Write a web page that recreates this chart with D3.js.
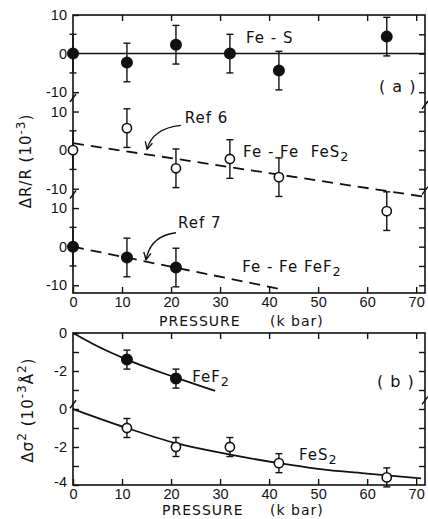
<!DOCTYPE html>
<html>
<head>
<meta charset="utf-8">
<script src="https://cdn.jsdelivr.net/npm/d3@7"></script>
<style>
body { margin: 0; background: #fff; }
svg { font-family: "DejaVu Sans", sans-serif; }
</style>
</head>
<body>
<div id="chart-area"></div>
<script>
// panel (a): delta R / R (10^-3) vs pressure (kbar)
const pFeS = [0, 11, 21, 32, 42, 64];
const dRFeS = [0, -2.3, 2.3, 0, -4.4, 4.4];
const eFeS = [5, 5, 5, 5, 5, 5];

const pFeS2 = [0, 11, 21, 32, 42, 64];
const dRFeS2 = [0, 5.7, -4.7, -2.3, -7, -15.8];
const eFeS2 = [5, 5, 5, 5, 5, 5];

const pFeF2 = [0, 11, 21];
const dRFeF2 = [0, -2.8, -5.4];
const eFeF2 = [5, 5, 5];

const pRef6 = [0, 71.8];
const dRRef6 = [1.8, -12.1];
const pRef7 = [0, 42];
const dRRef7 = [0, -10.9];

// panel (b): delta sigma^2 (10^-3 A^2)
const pSigF2 = [11, 21];
const sigF2 = [-1.4, -2.4];
const eSigF2 = [0.5, 0.5];
const pSigS2 = [11, 21, 32, 42, 64];
const sigS2 = [-1.0, -2.0, -2.0, -2.85, -3.6];
const eSigS2 = [0.5, 0.5, 0.5, 0.5, 0.5];

const pFitF2 = [0, 5, 11, 21, 29];
const fitF2 = [0, -0.7, -1.4, -2.35, -3.05];
const pFitS2 = [0, 11, 21, 30, 42, 50, 60, 71];
const fitS2 = [0, -1.0, -1.8, -2.3, -2.85, -3.15, -3.4, -3.65];

const xTicks = [0, 10, 20, 30, 40, 50, 60, 70];

let svg = d3.select("#chart-area").append("svg")
    .attr("width", 428)
    .attr("height", 519);

svg.append("defs").append("marker")
    .attr("id", "arr")
    .attr("viewBox", "0 0 10 10")
    .attr("refX", 9).attr("refY", 5)
    .attr("markerWidth", 7).attr("markerHeight", 7)
    .attr("orient", "auto")
    .append("path")
    .attr("d", "M1,1 L9,5 L1,9")
    .attr("fill", "none")
    .attr("stroke", "#111")
    .attr("stroke-width", 1.5);

const x = d3.scaleLinear().domain([0, 71.8]).range([73, 425]);
const yA = d3.scaleLinear().domain([-62, 10]).range([293, 15]);
const yB = d3.scaleLinear().domain([-8, 0]).range([485, 333]);

const offA = [0, -25, -50];   // three stacked sub-panels in (a)
const offB = [0, -4];         // two stacked sub-panels in (b)

function subOffA(v) { return v >= -12.5 ? 0 : (v >= -37.5 ? -25 : -50); }
function subOffB(v) { return v >= -3.5 ? 0 : -4; }

function frame(y, y0, y1) {
    svg.append("rect")
        .attr("x", x(0)).attr("y", y(y1))
        .attr("width", x(71.8) - x(0))
        .attr("height", y(y0) - y(y1))
        .attr("fill", "none")
        .attr("stroke", "#111")
        .attr("stroke-width", 1.6);
}

function styleAxis(g) {
    g.select(".domain").remove();
    g.selectAll(".tick line").attr("stroke", "#111").attr("stroke-width", 1.4);
    g.selectAll(".tick text").attr("fill", "#111").attr("font-size", 14.5)
        .attr("font-family", "Liberation Sans, sans-serif");
}

// x axes (top + bottom) for both panels
function xAxes(y, y0, y1, labelled) {
    let b = svg.append("g").attr("transform", "translate(0," + y(y0) + ")")
        .call(d3.axisBottom(x).tickValues(xTicks).tickSizeInner(-6).tickSizeOuter(0).tickPadding(4));
    styleAxis(b);
    if (!labelled) b.selectAll("text").remove();
    let t = svg.append("g").attr("transform", "translate(0," + y(y1) + ")")
        .call(d3.axisTop(x).tickValues(xTicks.slice(1)).tickSizeInner(-6).tickSizeOuter(0));
    styleAxis(t);
    t.selectAll("text").remove();
}

frame(yA, -62, 10);
frame(yB, -8, 0);
xAxes(yA, -62, 10, true);
xAxes(yB, -8, 0, true);

// left axis (a)
let la = svg.append("g").attr("transform", "translate(" + x(0) + ",0)")
    .call(d3.axisLeft(yA)
        .tickValues([10, 0, -10, -15, -25, -35, -40, -50, -60])
        .tickSizeInner(-6).tickSizeOuter(0).tickPadding(6)
        .tickFormat(function (d) { return String(d - subOffA(d)); }));
styleAxis(la);
la.selectAll(".tick line").attr("x2", function (d) { return (d - subOffA(d)) === 0 ? 0 : 6; });

// right axis (a)
let ra = svg.append("g").attr("transform", "translate(" + x(71.8) + ",0)")
    .call(d3.axisRight(yA).tickValues(d3.range(-60, 10, 5)).tickSizeInner(-6).tickSizeOuter(0));
styleAxis(ra);
ra.selectAll("text").remove();

// left axis (b)
let lb = svg.append("g").attr("transform", "translate(" + x(0) + ",0)")
    .call(d3.axisLeft(yB)
        .tickValues(d3.range(-8, 0.5, 1))
        .tickSizeInner(-6).tickSizeOuter(0).tickPadding(6)
        .tickFormat(function (d) {
            let v = d - subOffB(d);
            return v % 2 === 0 ? String(v) : "";
        }));
styleAxis(lb);
lb.selectAll(".tick text").attr("dy", function (d) { return d === -8 ? "0.1em" : "0.32em"; });

// right axis (b)
let rb = svg.append("g").attr("transform", "translate(" + x(71.8) + ",0)")
    .call(d3.axisRight(yB).tickValues(d3.range(-7, 0, 1)).tickSizeInner(-6).tickSizeOuter(0));
styleAxis(rb);
rb.selectAll("text").remove();

// axis break marks
function breakMark(px, py) {
    svg.append("path")
        .attr("d", "M" + (px - 3) + "," + (py + 4) + " L" + (px + 3) + "," + (py - 4))
        .attr("stroke", "#111").attr("stroke-width", 1.4);
}
breakMark(x(0), yA(-11.5));
breakMark(x(0), yA(-36.5));
breakMark(x(71.8), yA(-13.3));
breakMark(x(71.8), yA(-35.5));
breakMark(x(0), yB(-3.75));
breakMark(x(71.8), yB(-3.55));

// zero line for Fe-S
svg.append("line")
    .attr("x1", x(0)).attr("x2", x(71.8))
    .attr("y1", yA(0)).attr("y2", yA(0))
    .attr("stroke", "#111").attr("stroke-width", 1.5);

// reference dashed lines
function dashed(ps, vs, off) {
    svg.append("path")
        .datum(ps.map(function (p, i) { return [p, vs[i] + off]; }))
        .attr("d", d3.line().x(function (d) { return x(d[0]); }).y(function (d) { return yA(d[1]); }))
        .attr("fill", "none")
        .attr("stroke", "#111")
        .attr("stroke-width", 1.8)
        .attr("stroke-dasharray", "11,7");
}
dashed(pRef6, dRRef6, offA[1]);
dashed(pRef7, dRRef7, offA[2]);

// fitted curves in (b)
function curve(ps, vs, off) {
    svg.append("path")
        .datum(ps.map(function (p, i) { return [p, vs[i] + off]; }))
        .attr("d", d3.line().curve(d3.curveMonotoneX)
            .x(function (d) { return x(d[0]); }).y(function (d) { return yB(d[1]); }))
        .attr("fill", "none")
        .attr("stroke", "#111")
        .attr("stroke-width", 1.8);
}
curve(pFitF2, fitF2, offB[0]);
curve(pFitS2, fitS2, offB[1]);

// points with error bars
function points(y, ps, vs, es, off, filled) {
    let data = ps.map(function (p, i) { return { p: p, v: vs[i] + off, e: es[i] }; });
    let g = svg.append("g");
    let eb = g.selectAll(".eb").data(data).enter().append("g");
    eb.append("line")
        .attr("x1", function (d) { return x(d.p); }).attr("x2", function (d) { return x(d.p); })
        .attr("y1", function (d) { return y(d.v + d.e); }).attr("y2", function (d) { return y(d.v - d.e); })
        .attr("stroke", "#111").attr("stroke-width", 1.4);
    [1, -1].forEach(function (s) {
        eb.append("line")
            .attr("x1", function (d) { return x(d.p) - 3.5; }).attr("x2", function (d) { return x(d.p) + 3.5; })
            .attr("y1", function (d) { return y(d.v + s * d.e); }).attr("y2", function (d) { return y(d.v + s * d.e); })
            .attr("stroke", "#111").attr("stroke-width", 1.4);
    });
    g.selectAll("circle").data(data).enter().append("circle")
        .attr("cx", function (d) { return x(d.p); })
        .attr("cy", function (d) { return y(d.v); })
        .attr("r", filled ? 5.2 : 4.6)
        .attr("fill", filled ? "#111" : "#fff")
        .attr("stroke", "#111")
        .attr("stroke-width", 1.6);
}
points(yA, pFeS, dRFeS, eFeS, offA[0], true);
points(yA, pFeS2, dRFeS2, eFeS2, offA[1], false);
points(yA, pFeF2, dRFeF2, eFeF2, offA[2], true);
points(yB, pSigF2, sigF2, eSigF2, offB[0], true);
points(yB, pSigS2, sigS2, eSigS2, offB[1], false);

// text labels
function label(px, py, parts, size) {
    let t = svg.append("text")
        .attr("x", px).attr("y", py)
        .attr("font-size", size || 15)
        .attr("fill", "#111")
        .attr("letter-spacing", 1)
        .attr("xml:space", "preserve");
    parts.forEach(function (pt) {
        let s = t.append("tspan").text(pt[0]);
        if (pt[1] === "sub") s.attr("dy", 4).attr("font-size", (size || 15) * 0.85);
    });
    return t;
}
label(x(35.3), yA(2.7), [["Fe - S"]]);
label(x(62.4), yA(-9.9), [["( a )"]], 16);
label(x(22.8), yA(7.0 + offA[1]), [["Ref 6"]]);
label(x(34.7), yA(-1.8 + offA[1]), [["Fe - Fe  FeS"], ["2", "sub"]]);
label(x(21.4), yA(4.8 + offA[2]), [["Ref 7"]]);
label(x(34.5), yA(-6.6 + offA[2]), [["Fe - Fe FeF"], ["2", "sub"]]);
label(x(24.3), yB(-2.58), [["FeF"], ["2", "sub"]]);
label(x(62), yB(-2.84), [["( b )"]], 16);
label(x(46.1), yB(-2.68 + offB[1]), [["FeS"], ["2", "sub"]]);

// arrows from Ref labels
function arrow(p0, v0, pc, vc, p1, v1) {
    svg.append("path")
        .attr("d", "M" + x(p0) + "," + yA(v0) + " Q" + x(pc) + "," + yA(vc) + " " + x(p1) + "," + yA(v1))
        .attr("fill", "none")
        .attr("stroke", "#111")
        .attr("stroke-width", 1.3)
        .attr("marker-end", "url(#arr)");
}
arrow(22.0, 6.4 + offA[1], 16.2, 5.6 + offA[1], 15.1, 0.2 + offA[1]);
arrow(21.0, 3.6 + offA[2], 15.8, 2.8 + offA[2], 14.9, -3.4 + offA[2]);

// axis titles
svg.append("text").attr("x", 159).attr("y", yA(-62) + 33)
    .attr("font-size", 14).attr("letter-spacing", 1).attr("fill", "#111").text("PRESSURE");
svg.append("text").attr("x", 270).attr("y", yA(-62) + 33)
    .attr("font-size", 14).attr("letter-spacing", 1).attr("fill", "#111").text("(k bar)");
svg.append("text").attr("x", 162).attr("y", yB(-8) + 30)
    .attr("font-size", 14).attr("letter-spacing", 1).attr("fill", "#111").text("PRESSURE");
svg.append("text").attr("x", 270).attr("y", yB(-8) + 30)
    .attr("font-size", 14).attr("letter-spacing", 1).attr("fill", "#111").text("(k bar)");

let ta = svg.append("text")
    .attr("transform", "translate(31," + 161 + ") rotate(-90)")
    .attr("text-anchor", "middle")
    .attr("font-size", 15).attr("letter-spacing", 1).attr("fill", "#111");
ta.append("tspan").text("ΔR/R (10");
ta.append("tspan").attr("dy", -6).attr("font-size", 12).text("-3");
ta.append("tspan").attr("dy", 6).text(")");

let tb = svg.append("text")
    .attr("transform", "translate(33," + 410 + ") rotate(-90)")
    .attr("text-anchor", "middle")
    .attr("font-size", 15).attr("letter-spacing", 1).attr("fill", "#111");
tb.append("tspan").text("Δσ");
tb.append("tspan").attr("dy", -7).attr("font-size", 12).text("2");
tb.append("tspan").attr("dy", 7).text(" (10");
tb.append("tspan").attr("dy", -7).attr("font-size", 12).text("-3");
tb.append("tspan").attr("dy", 7).text("Å");
tb.append("tspan").attr("dy", -7).attr("font-size", 12).text("2");
tb.append("tspan").attr("dy", 7).text(")");
</script>
</body>
</html>
